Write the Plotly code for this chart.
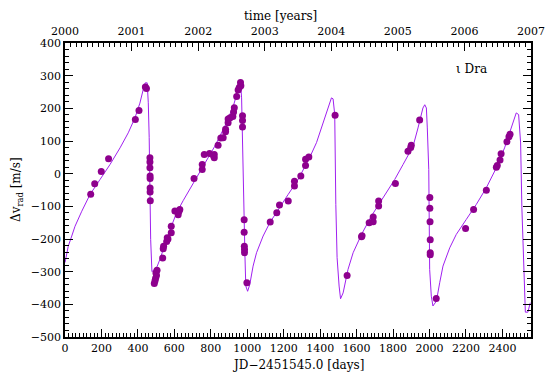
import plotly.graph_objects as go

# ---- data ----
model_day = [0, 18, 37, 55, 92, 137, 192, 247, 302, 347, 384, 411, 429, 440, 451, 457, 462, 470, 477,
             505, 521, 540, 565, 590, 612, 649, 686, 722, 768, 822, 877, 923, 950, 963, 969, 974, 980,
             987, 992, 1002, 1014, 1032, 1051, 1087, 1124, 1169, 1224, 1279, 1325, 1343, 1380, 1416,
             1444, 1462, 1471, 1480, 1486, 1493, 1504, 1512, 1526, 1553, 1581, 1627, 1681, 1745, 1809,
             1855, 1910, 1937, 1964, 1974, 1983, 1988, 1996, 2001, 2010, 2019, 2038, 2056, 2074, 2111,
             2147, 2202, 2257, 2312, 2367, 2412, 2449, 2476, 2489, 2500, 2507, 2516, 2526, 2540, 2553]
model_v = [-272, -222, -191, -161, -115, -64, -18, 28, 79, 125, 171, 216, 257, 278, 278, 217, 110, -201, -300,
           -285, -262, -228, -190, -152, -120, -82, -46, -13, 33, 84, 145, 206, 257, 278, 232, 79, -64,
           -242, -344, -360, -339, -283, -242, -191, -150, -110, -64, -18, 28, 50, 95, 155,
           206, 232, 229, 181, -94, -257, -344, -383, -365, -293, -242, -186, -130, -74, -18,
           28, 84, 140, 201, 211, 201, 140, 13, -293, -375, -405, -390, -334, -283, -227,
           -186, -140, -94, -43, 18, 79, 140, 186, 181, 94, -105, -293, -424, -424, -395]

obs_day = [141, 163, 199, 239, 386, 406, 441, 447, 466, 466, 466, 467, 467, 467, 467, 468,
           490, 494, 497, 502, 499, 505, 536, 539, 541, 558, 565, 561, 583, 583, 603, 621, 625, 630,
           708, 753, 753, 764, 793, 819, 819, 815, 840, 855, 868, 881, 881, 895, 895, 906, 921, 925,
           929, 942, 950, 956, 965, 963, 974, 974, 974, 983, 983, 984, 985, 985, 998,
           1126, 1162, 1177, 1225, 1259, 1259, 1294, 1320, 1320, 1338,
           1482, 1548, 1627, 1630, 1669, 1691, 1691, 1721, 1721, 1813, 1882, 1897, 1900, 1946,
           2002, 2002, 2003, 2004, 2004, 2004, 2037, 2198, 2242, 2312, 2367, 2372, 2387, 2393,
           2425, 2436, 2442]
obs_v = [-63, -31, 7, 46, 166, 193, 265, 261, 49, 36, 18, -7, -15, -44, -56, -83,
         -336, -328, -320, -312, -304, -296, -258, -230, -222, -208, -200, -196, -181, -161, -114, -126, -116, -110,
         -15, 13, 28, 59, 62, 59, 49, 55, 87, 109, 110, 128, 136, 156, 167, 171, 175, 189,
         202, 236, 256, 264, 269, 279, 177, 163, 143, -141, -179, -222, -232, -242, -334,
         -148, -120, -96, -84, -38, -23, -7, 25, 44, 51,
         179, -312, -193, -190, -150, -147, -133, -99, -84, -30, 69, 80, 87, 164,
         -73, -106, -147, -202, -242, -248, -382, -168, -110, -51, 20, 25, 42, 61,
         98, 113, 121]

year_ticks = [2000, 2001, 2002, 2003, 2004, 2005, 2006, 2007]
x_range = [0, 2557]
y_range = [-500, 400]


def day_to_year(d):
    return 2000 + d / 365.25


FONT = "DejaVu Serif"
LINE_C = "#A020F0"
DOT_C = "#8E008E"

fig = go.Figure()
fig.add_trace(go.Scatter(x=model_day, y=model_v, mode="lines",
                         line=dict(color=LINE_C, width=1), showlegend=False, hoverinfo="skip"))
fig.add_trace(go.Scatter(x=obs_day, y=obs_v, mode="markers",
                         marker=dict(color=DOT_C, size=7, symbol="circle", line=dict(width=0)),
                         showlegend=False))
# invisible traces to activate top / right axes
fig.add_trace(go.Scatter(x=[day_to_year(x_range[0])], y=[y_range[0]], xaxis="x2", yaxis="y",
                         mode="markers", marker=dict(opacity=0), showlegend=False, hoverinfo="skip"))
fig.add_trace(go.Scatter(x=[x_range[0]], y=[y_range[0]], xaxis="x", yaxis="y2",
                         mode="markers", marker=dict(opacity=0), showlegend=False, hoverinfo="skip"))

tickfont = dict(family=FONT, size=11, color="black")
common = dict(showgrid=False, zeroline=False, showline=True, linecolor="black", linewidth=1.5,
              ticks="inside", tickcolor="black", tickwidth=1.2, ticklen=8, tickfont=tickfont,
              automargin=False)
minor = dict(ticklen=4, ticks="inside", tickcolor="black", tickwidth=1)

fig.update_layout(
    width=557, height=383,
    margin=dict(l=65, r=26, t=43, b=46),
    paper_bgcolor="white", plot_bgcolor="white",
    xaxis=dict(range=x_range, dtick=200, tick0=0, minor=dict(dtick=20, **minor), **common),
    xaxis2=dict(overlaying="x", side="top",
                range=[day_to_year(x_range[0]), day_to_year(x_range[1])],
                tickvals=year_ticks, ticktext=[str(y) for y in year_ticks],
                ticklabelstandoff=2,
                minor=dict(dtick=1 / 12, tick0=2000, **minor), **common),
    yaxis=dict(range=y_range, dtick=100, tick0=0, minor=dict(dtick=20, **minor), **common),
    yaxis2=dict(overlaying="y", side="right", range=y_range, dtick=100, tick0=0, showticklabels=False,
                minor=dict(dtick=20, **minor), **common),
    annotations=[
        dict(text="JD\u22122451545.0 [days]", xref="paper", yref="paper", x=0.5, y=0,
             yanchor="middle", xanchor="center", yshift=-28, showarrow=False,
             font=dict(family=FONT, size=12, color="black")),
        dict(text="time [years]", xref="paper", yref="paper", x=0.4635, y=1,
             yanchor="middle", xanchor="center", yshift=27, showarrow=False,
             font=dict(family=FONT, size=12, color="black")),
        dict(text="\u0394v<sub>rad</sub> [m/s]", xref="paper", yref="paper", x=0, y=0.5,
             xanchor="center", yanchor="middle", xshift=-48, textangle=-90, showarrow=False,
             font=dict(family=FONT, size=12, color="black")),
        dict(text="\u03b9 Dra", xref="paper", yref="paper", x=(471 - 65) / 466, y=1,
             xanchor="center", yanchor="middle", yshift=-26, showarrow=False,
             font=dict(family=FONT, size=12, color="black")),
    ],
)

fig.write_html("out.html",
               config={"displayModeBar": False},
               post_script="document.body.style.margin='0';document.body.style.padding='0';"
                           "document.body.style.overflow='hidden';")
